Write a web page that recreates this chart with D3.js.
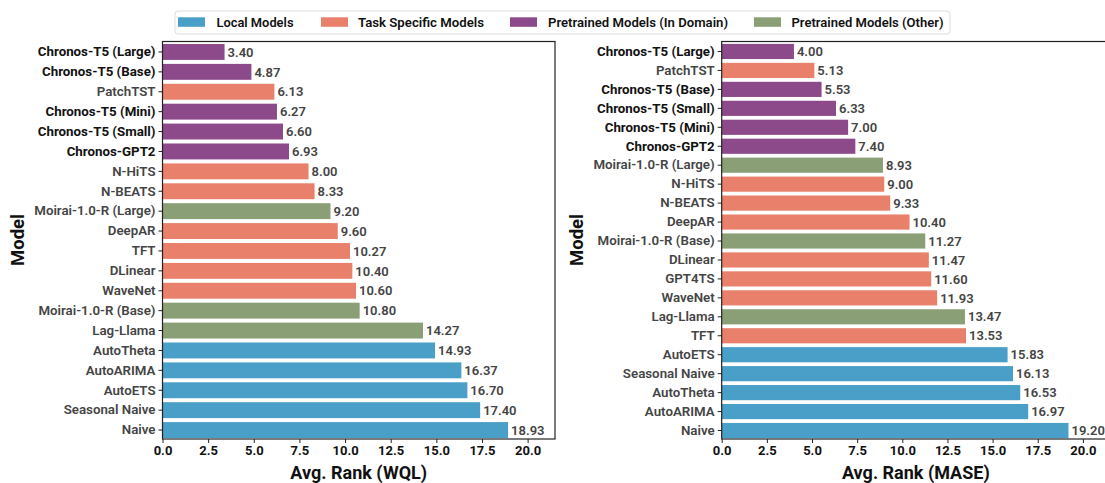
<!DOCTYPE html>
<html><head><meta charset="utf-8">
<script src="https://cdn.jsdelivr.net/npm/d3@7"></script>
<style>body{margin:0;background:#fff;font-family:Roboto,"DejaVu Sans",sans-serif;}</style>
</head><body><svg id="c" width="1105" height="483"></svg>
<script>
const groups = ["Local Models","Task Specific Models","Pretrained Models (In Domain)","Pretrained Models (Other)"];
const groupColors = ["#4a9fc8","#e8806c","#8d4a8a","#8b9f77"];

const wqlModels = ["Chronos-T5 (Large)","Chronos-T5 (Base)","PatchTST","Chronos-T5 (Mini)","Chronos-T5 (Small)","Chronos-GPT2","N-HiTS","N-BEATS","Moirai-1.0-R (Large)","DeepAR","TFT","DLinear","WaveNet","Moirai-1.0-R (Base)","Lag-Llama","AutoTheta","AutoARIMA","AutoETS","Seasonal Naive","Naive"];
const wqlValues = [3.40,4.87,6.13,6.27,6.60,6.93,8.00,8.33,9.20,9.60,10.27,10.40,10.60,10.80,14.27,14.93,16.37,16.70,17.40,18.93];
const wqlGroups = [2,2,1,2,2,2,1,1,3,1,1,1,1,3,3,0,0,0,0,0];

const maseModels = ["Chronos-T5 (Large)","PatchTST","Chronos-T5 (Base)","Chronos-T5 (Small)","Chronos-T5 (Mini)","Chronos-GPT2","Moirai-1.0-R (Large)","N-HiTS","N-BEATS","DeepAR","Moirai-1.0-R (Base)","DLinear","GPT4TS","WaveNet","Lag-Llama","TFT","AutoETS","Seasonal Naive","AutoTheta","AutoARIMA","Naive"];
const maseValues = [4.00,5.13,5.53,6.33,7.00,7.40,8.93,9.00,9.33,10.40,11.27,11.47,11.60,11.93,13.47,13.53,15.83,16.13,16.53,16.97,19.20];
const maseGroups = [2,1,2,2,2,2,3,1,1,1,3,1,1,1,3,1,0,0,0,0,0];

const xTicks = [0,2.5,5,7.5,10,12.5,15,17.5,20];

const svg = d3.select("#c");

function panel(left, right, models, values, grps, title, xmax) {
  const top = 41.5, bottom = 439;
  const g = svg.append("g");
  const x = d3.scaleLinear().domain([0, xmax]).range([left, right]);
  const y = d3.scaleBand().domain(models).range([42, 440]).paddingInner(0.2).paddingOuter(0.1);
  g.selectAll("rect.bar").data(models).join("rect")
    .attr("x", x(0)).attr("y", d => y(d))
    .attr("width", (d,i) => x(values[i]) - x(0))
    .attr("height", y.bandwidth())
    .attr("fill", (d,i) => groupColors[grps[i]]);
  g.selectAll("text.val").data(models).join("text")
    .attr("x", (d,i) => x(values[i]) + 3)
    .attr("y", d => y(d) + y.bandwidth()/2)
    .attr("dy", "0.36em")
    .attr("font-size", 13).attr("font-weight", 600).attr("fill", "#444")
    .text((d,i) => values[i].toFixed(2));
  g.append("rect").attr("x", left).attr("y", top).attr("width", right-left).attr("height", bottom-top)
    .attr("fill", "none").attr("stroke", "#222").attr("stroke-width", 1.2);
  const xa = g.append("g").attr("transform", `translate(0,${bottom})`)
    .call(d3.axisBottom(x).tickValues(xTicks).tickFormat(d3.format(".1f")).tickSize(4).tickPadding(3));
  xa.select(".domain").remove();
  xa.selectAll("line").attr("stroke", "#222");
  xa.selectAll("text").attr("font-size", 13).attr("font-weight", 700).attr("fill", "#111").attr("font-family", "Roboto");
  const ya = g.append("g").attr("transform", `translate(${left},0)`)
    .call(d3.axisLeft(y).tickSize(4).tickPadding(3));
  ya.select(".domain").remove();
  ya.selectAll("line").attr("stroke", "#222");
  ya.selectAll("text").attr("font-size", 13.3).attr("font-family", "Roboto")
    .attr("font-weight", d => d.startsWith("Chronos") ? 700 : 600)
    .attr("fill", d => d.startsWith("Chronos") ? "#111" : "#444");
  g.append("text").attr("x", (left + Math.min(right, 1105))/2 + (right > 1105 ? (right-1105)/2 : 0)).attr("y", 479)
    .attr("text-anchor", "middle").attr("font-size", 18).attr("font-weight", 700).attr("fill", "#111")
    .text(title);
  return g;
}

panel(162.5, 555, wqlModels, wqlValues, wqlGroups, "Avg. Rank (WQL)", 21.5);
panel(721.7, 1110, maseModels, maseValues, maseGroups, "Avg. Rank (MASE)", 21.5);
svg.append("text").attr("transform", "translate(24,240) rotate(-90)").attr("text-anchor", "middle")
  .attr("font-size", 18.5).attr("font-weight", 700).attr("fill", "#111").text("Model");
svg.append("text").attr("transform", "translate(583,240) rotate(-90)").attr("text-anchor", "middle")
  .attr("font-size", 18.5).attr("font-weight", 700).attr("fill", "#111").text("Model");

// legend
const lg = svg.append("g");
lg.append("rect").attr("x", 175).attr("y", 11).attr("width", 775).attr("height", 23).attr("rx", 3)
  .attr("fill", "#fff").attr("stroke", "#ddd");
const legX = [178, 321, 510, 754];
const legT = [216.5, 358, 548, 791.5];
const legW = [77, 126, 180, 152];
groups.forEach((gname, i) => {
  lg.append("rect").attr("x", legX[i]).attr("y", 17.3).attr("width", 27).attr("height", 9.5).attr("fill", groupColors[i]);
  lg.append("text").attr("x", legT[i]).attr("y", 22.3).attr("dy", "0.36em")
    .attr("font-size", 13).attr("font-weight", 600).attr("fill", "#111")
    .attr("textLength", legW[i]).attr("lengthAdjust", "spacingAndGlyphs").text(gname);
});
</script></body></html>
